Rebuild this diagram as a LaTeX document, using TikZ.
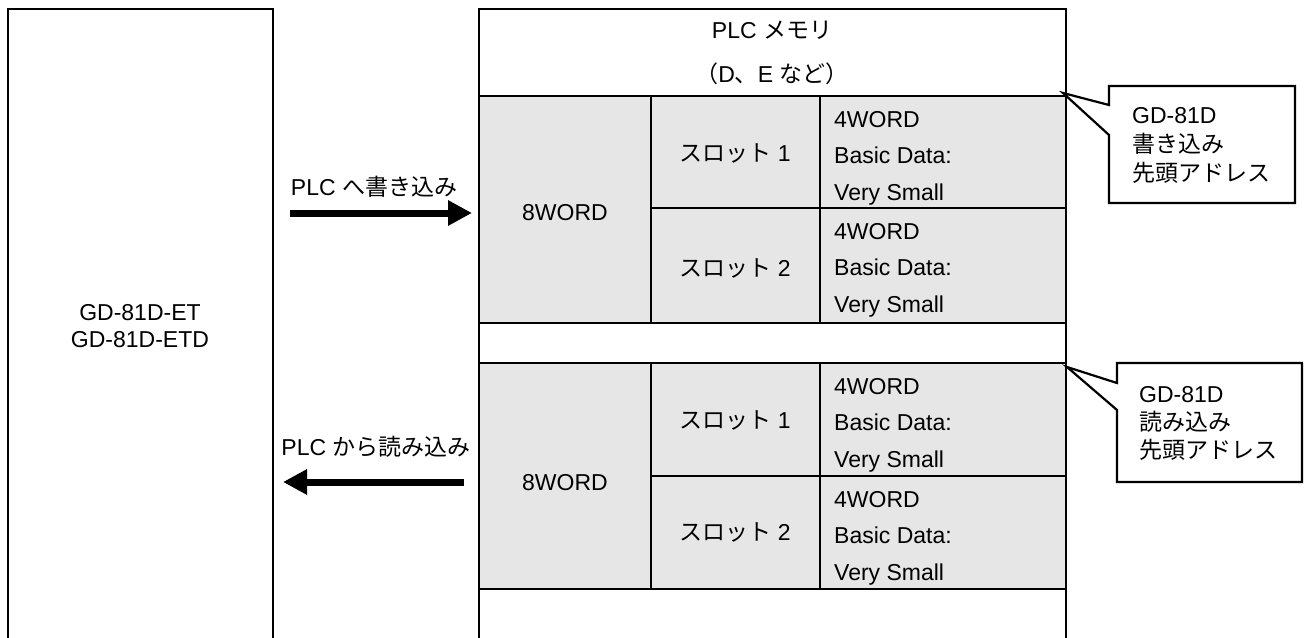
\documentclass[tikz,border=0pt]{standalone}
\usepackage{fontspec}
\setmainfont{Liberation Sans}
\newfontfamily\jp{Noto Sans CJK JP}
\usetikzlibrary{arrows.meta}
\definecolor{cellgray}{HTML}{E6E6E6}
\tikzset{
  frame/.style={line width=2.4pt, line join=miter},
  grid/.style={line width=2.2pt},
  cellfill/.style={fill=cellgray, draw=none},
  lbl/.style={inner sep=0pt, anchor=base},
  lblw/.style={inner sep=0pt, anchor=base west},
  bigarrow/.style={line width=7pt, -{Triangle[length=24pt,width=24pt]}},
  calloutbox/.style={fill=white, draw, line width=2.2pt, line join=miter}
}
\begin{document}
\begin{tikzpicture}[x=1pt,y=-1pt,font=\fontsize{23}{27}\selectfont]
\useasboundingbox (0,0) rectangle (1306,637);
% left device box (open at bottom)
\draw[frame] (8,640) -- (8,9) -- (273,9) -- (273,640);
\node[lbl] (dev1) at (140,320) {GD-81D-ET};
\node[lbl] (dev2) at (140,347) {GD-81D-ETD};
% memory gray blocks
\fill[cellfill] (479,96) rectangle (1066,323);
\fill[cellfill] (479,363) rectangle (1066,589);
% memory outline
\draw[frame] (479,640) -- (479,9) -- (1066,9) -- (1066,640);
\foreach \yy in {96,323,363,589} \draw[grid] (479,\yy) -- (1066,\yy);
\foreach \xx in {651,820} {
  \draw[grid] (\xx,96) -- (\xx,323);
  \draw[grid] (\xx,363) -- (\xx,589);
}
\draw[grid] (651,208) -- (1066,208);
\draw[grid] (651,476) -- (1066,476);
% header
\node[lbl] (hdr1) at (772,38) {PLC {\jp メモリ}};
\node[lbl] (hdr2) at (772,82) {{\jp （}D{\jp 、}E {\jp など）}};
% 8WORD
\node[lbl] (w8a) at (565,220) {8WORD};
\node[lbl] (w8b) at (565,490) {8WORD};
% slots
\node[lbl] (s1a) at (735,161) {{\jp スロット} 1};
\node[lbl] (s2a) at (735,276) {{\jp スロット} 2};
\node[lbl] (s1b) at (735,428) {{\jp スロット} 1};
\node[lbl] (s2b) at (735,540) {{\jp スロット} 2};
% 4WORD cells
\foreach \t/\n in {96/a,208/b,363/c,476/d} {
  \node[lblw] (fw\n) at (834,\t+31) {4WORD};
  \node[lblw] (bd\n) at (834,\t+67) {Basic Data:};
  \node[lblw] (vs\n) at (834,\t+104) {Very Small};
}
% arrows
\node[lbl] (wlab) at (374,195) {PLC {\jp へ書き込み}};
\coordinate (wfrom) at (290,213);
\coordinate (wto) at (472,213);
\draw[bigarrow] (wfrom) -- (wto);
\node[lbl] (rlab) at (376,455) {PLC {\jp から読み込み}};
\coordinate (rfrom) at (464,482);
\coordinate (rto) at (283,482);
\draw[bigarrow] (rfrom) -- (rto);
% callouts
\draw[calloutbox] (1109,86) -- (1295,86) -- (1295,203) -- (1109,203) -- (1109,135) -- (1063,93) -- (1109,105) -- cycle;
\node[lblw] (c1a) at (1132,123) {GD-81D};
\node[lblw] (c1b) at (1132,152) {\jp 書き込み};
\node[lblw] (c1c) at (1132,181) {\jp 先頭アドレス};
\draw[calloutbox] (1117,363) -- (1302,363) -- (1302,482) -- (1117,482) -- (1117,410) -- (1067,367) -- (1117,383) -- cycle;
\node[lblw] (c2a) at (1139,402) {GD-81D};
\node[lblw] (c2b) at (1139,430) {\jp 読み込み};
\node[lblw] (c2c) at (1139,458) {\jp 先頭アドレス};
\end{tikzpicture}
\end{document}
